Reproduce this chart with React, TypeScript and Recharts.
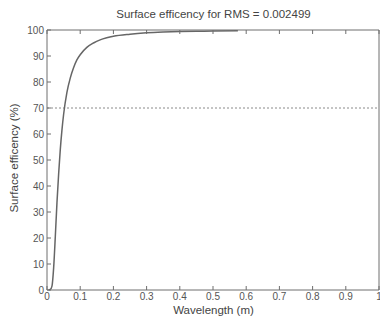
import React from 'react';
import { LineChart, Line, XAxis, YAxis, ReferenceLine } from 'recharts';

// values
const wavelength = [0.005, 0.01, 0.015, 0.02, 0.025, 0.03, 0.035, 0.04, 0.045, 0.05, 0.06, 0.07, 0.08, 0.09, 0.1, 0.12, 0.14, 0.16, 0.18, 0.2, 0.25, 0.3, 0.35, 0.4, 0.45, 0.5, 0.575];
const efficiency = [0, 0.2, 1.5, 8.5, 20.5, 33.5, 44.5, 54, 61.5, 67.5, 76, 81.5, 85.5, 88.5, 90.5, 93.3, 95, 96.2, 97, 97.6, 98.4, 98.9, 99.2, 99.4, 99.5, 99.6, 99.7];
const xTicks = [0, 0.1, 0.2, 0.3, 0.4, 0.5, 0.6, 0.7, 0.8, 0.9, 1];
const yTicks = [0, 10, 20, 30, 40, 50, 60, 70, 80, 90, 100];
const threshold = 70;

const data = wavelength.map((w, i) => ({ w, e: efficiency[i] }));

const font = '"Liberation Sans", Arial, sans-serif';
const axisColor = '#6e6e6e';
const tickStyle = { fontSize: 10, fill: '#555', fontFamily: font };
const blank = () => '';

export default function App() {
  return (
    <div style={{ position: 'absolute', left: 0, top: 0, width: 380, height: 321, background: '#fff', fontFamily: font }}>
      <div style={{ position: 'absolute', left: 0, width: 427, top: 8, textAlign: 'center', fontSize: 11.5, color: '#444' }}>
        Surface efficency for RMS = 0.002499
      </div>
      <LineChart width={380} height={321} data={data} margin={{ top: 29, right: 0, bottom: 0, left: 0 }}>
        <XAxis
          dataKey="w"
          type="number"
          domain={[0, 1]}
          ticks={xTicks}
          interval={0}
          tickSize={-4}
          tickMargin={7}
          height={31}
          stroke={axisColor}
          tick={tickStyle}
          allowDataOverflow
        />
        <XAxis
          xAxisId="top"
          orientation="top"
          dataKey="w"
          type="number"
          domain={[0, 1]}
          ticks={xTicks}
          interval={0}
          tickSize={-4}
          height={1}
          stroke={axisColor}
          tickFormatter={blank}
        />
        <YAxis
          type="number"
          domain={[0, 100]}
          ticks={yTicks}
          interval={0}
          tickSize={-4}
          tickMargin={7}
          width={47}
          stroke={axisColor}
          tick={tickStyle}
        />
        <YAxis
          yAxisId="right"
          orientation="right"
          type="number"
          domain={[0, 100]}
          ticks={yTicks}
          interval={0}
          tickSize={-4}
          width={1}
          stroke={axisColor}
          tickFormatter={blank}
        />
        <ReferenceLine y={threshold} stroke="#8a8a8a" strokeDasharray="2 2" strokeWidth={1} />
        <Line
          type="monotone"
          dataKey="e"
          stroke="#666"
          strokeWidth={1.5}
          dot={false}
          isAnimationActive={false}
        />
      </LineChart>
      <div style={{ position: 'absolute', left: 0, width: 427, top: 304, textAlign: 'center', fontSize: 11.5, color: '#444' }}>
        Wavelength (m)
      </div>
      <div
        style={{
          position: 'absolute',
          left: 14,
          top: 158,
          transform: 'translate(-50%, -50%) rotate(-90deg)',
          whiteSpace: 'nowrap',
          fontSize: 11.5,
          color: '#444',
        }}
      >
        Surface efficency (%)
      </div>
    </div>
  );
}
